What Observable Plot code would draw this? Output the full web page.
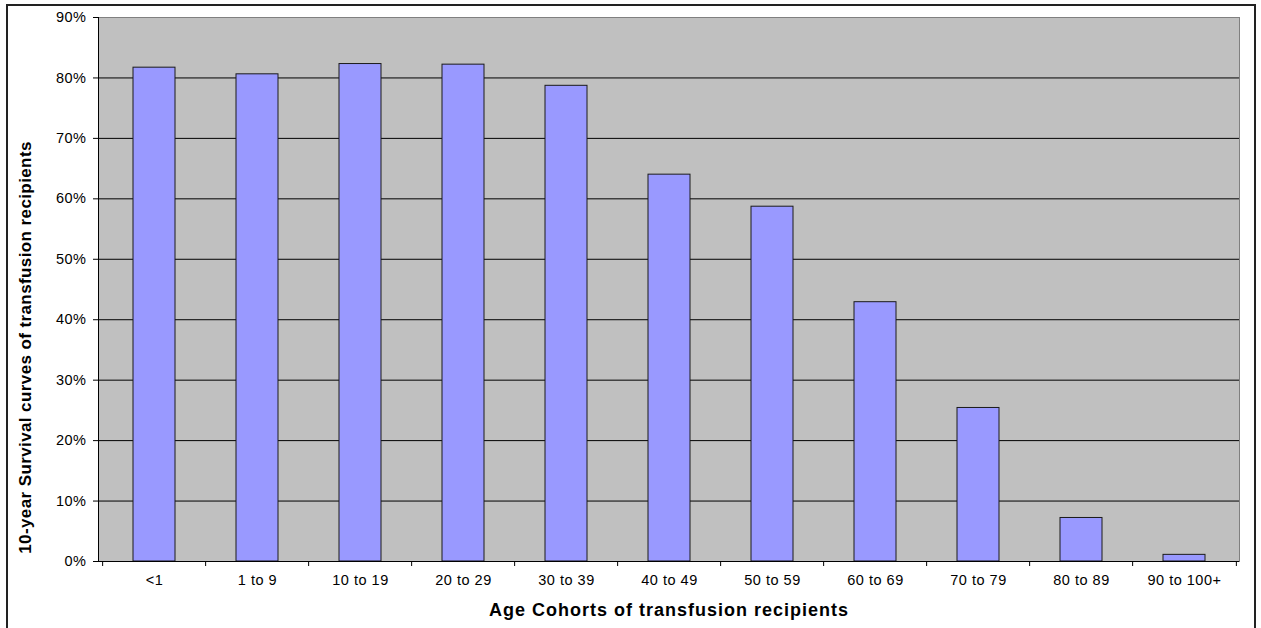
<!DOCTYPE html>
<html>
<head>
<meta charset="utf-8">
<script src="https://cdn.jsdelivr.net/npm/d3@7"></script>
<script src="https://cdn.jsdelivr.net/npm/@observablehq/plot@0.6"></script>
<style>
  html, body { margin: 0; padding: 0; background: #fff; }
  #wrap { position: relative; width: 1261px; height: 628px; overflow: hidden; }
  #border { position: absolute; left: 6px; top: 4px; width: 1250px; height: 640px; border: 2px solid #222; box-sizing: border-box; pointer-events: none; }
  #chart svg { display: block; }
  #chart svg text { letter-spacing: 0.5px; }
  #chart svg text.axis-title { letter-spacing: 1px; }
  #chart svg text.axis-title-y { letter-spacing: 0.4px; }
</style>
</head>
<body>
<div id="wrap">
  <div id="chart"></div>
  <div id="border"></div>
</div>
<script>
// Age cohorts on the x axis
const categories = ["<1", "1 to 9", "10 to 19", "20 to 29", "30 to 39", "40 to 49",
                    "50 to 59", "60 to 69", "70 to 79", "80 to 89", "90 to 100+"];
// 10-year survival share for each cohort
const survival = [0.817, 0.806, 0.823, 0.822, 0.787, 0.640, 0.587, 0.429, 0.254, 0.072, 0.011];
// Percentage ticks on the y axis
const yTicks = [0, 0.1, 0.2, 0.3, 0.4, 0.5, 0.6, 0.7, 0.8, 0.9];

const xTitle = "Age Cohorts of transfusion recipients";
const yTitle = "10-year Survival curves of transfusion recipients";

const data = categories.map((age, i) => ({age, value: survival[i]}));

const W = 1261, H = 628;
const mL = 98, mR = 22, mT = 17, mB = 67;
const step = (W - mL - mR) / categories.length;
const tickFont = 14.5;

const chart = Plot.plot({
  width: W,
  height: H,
  marginLeft: mL,
  marginRight: mR,
  marginTop: mT,
  marginBottom: mB,
  style: {
    fontFamily: "Arial, 'Liberation Sans', sans-serif",
    fontSize: "14.5px",
    color: "black",
    background: "transparent",
    overflow: "visible"
  },
  x: {domain: categories, paddingInner: 0.595, paddingOuter: 0.2975, axis: null, label: null},
  y: {domain: [0, 0.9], axis: null, label: null},
  marks: [
    // grey plot area with black gridlines
    Plot.frame({fill: "#C0C0C0"}),
    Plot.gridY({ticks: yTicks.filter(t => t > 0 && t < 0.9), stroke: "black", strokeOpacity: 1}),
    Plot.frame({stroke: "#808080"}),
    // bars
    Plot.barY(data, {x: "age", y: "value", fill: "#9999FF", stroke: "#1a1a1a", strokeWidth: 1}),
    // axis lines
    Plot.ruleY([0], {stroke: "black"}),
    Plot.frame({anchor: "left", stroke: "black"}),
    // y axis ticks and percentage labels
    Plot.axisY({ticks: yTicks, tickFormat: d3.format(".0%"), tickSize: 5, tickPadding: 7,
                fontSize: tickFont, label: null}),
    // x tick marks sit on the boundaries between cohorts
    Plot.axisX({ticks: categories, tickFormat: () => "", tickSize: 5, dx: -step / 2, label: null}),
    Plot.axisX({ticks: categories.slice(-1), tickFormat: () => "", tickSize: 5, dx: step / 2, label: null}),
    // cohort labels centred under each bar
    Plot.axisX({ticks: categories, tickSize: 0, tickPadding: 13, fontSize: tickFont, label: null}),
    // axis titles
    Plot.text([xTitle], {text: d => d, frameAnchor: "bottom", lineAnchor: "bottom", dy: 54,
                         fontWeight: "bold", fontSize: 18}),
    Plot.text([yTitle], {text: d => d, frameAnchor: "left", textAnchor: "middle", rotate: -90,
                         dx: -73, dy: 58, fontWeight: "bold", fontSize: 17})
  ]
});

// wider tracking on the two axis titles
d3.select(chart).selectAll("text").each(function() {
  const t = this.textContent;
  if (t === xTitle) this.classList.add("axis-title");
  if (t === yTitle) this.classList.add("axis-title-y");
});

document.getElementById("chart").appendChild(chart);
</script>
</body>
</html>
